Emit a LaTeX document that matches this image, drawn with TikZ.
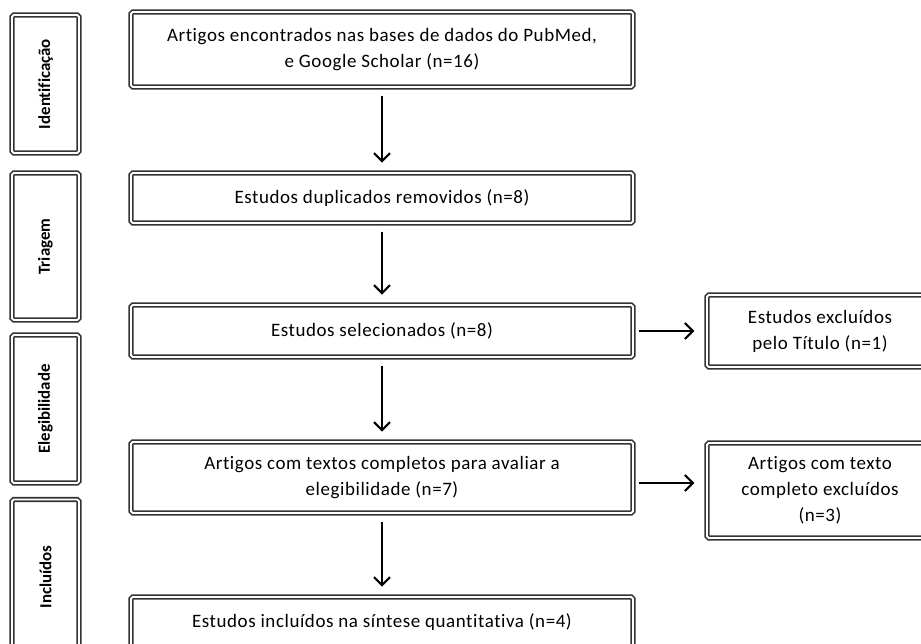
\documentclass[tikz,border=0pt]{standalone}
\usepackage{fontspec}
\setmainfont{Carlito}[Ligatures={NoCommon}]
\usepackage{tikz}
\usetikzlibrary{arrows.meta, positioning}

\begin{document}
\begin{tikzpicture}[
    >={Straight Barb[length=4.5pt,width=9pt]},
    on grid,
    box/.style={rectangle, draw=black!80, double=white, double distance=1.1pt, line width=0.9pt, rounded corners=1pt, minimum width=10.04cm, align=center, font=\fontsize{10.8}{14.8}\selectfont\addfontfeature{LetterSpace=3}},
    side/.style={rectangle, draw=black!80, double=white, double distance=1.1pt, line width=0.9pt, rounded corners=1pt, minimum width=1.34cm, align=center, font=\fontsize{9.6}{10}\selectfont\bfseries},
    outbox/.style={box, minimum width=4.52cm},
    myarrow/.style={->, line width=1.2pt, shorten <=4.5pt, shorten >=5.5pt},
    sidearrow/.style={->, line width=1.2pt, shorten <=2.8pt, shorten >=6.8pt}
    ]
    \path[use as bounding box, clip] (0,0) rectangle (18.42,-12.88);
    % Stages
    \node[side, minimum height=2.76cm] (S1) at (0.91,-1.68) {\rotatebox{90}{Identificação}};
    \node[side, minimum height=2.94cm] (S2) at (0.91,-4.93) {\rotatebox{90}{Triagem}};
    \node[side, minimum height=2.96cm] (S3) at (0.91,-8.18) {\rotatebox{90}{Elegibilidade}};
    \node[side, minimum height=3.10cm] (S4) at (0.91,-11.54) {\rotatebox{90}{Incluídos}};
    % Nodes
    \node[box, minimum height=1.50cm] (B1) at (7.64,-0.99) {Artigos encontrados nas bases de dados do PubMed,\\e Google Scholar (n=16)};
    \node[box, minimum height=1.00cm] (B2) [below=2.97cm of B1] {Estudos duplicados removidos (n=8)};
    \node[box, minimum height=1.04cm] (B3) [below=2.66cm of B2] {Estudos selecionados (n=8)};
    \node[box, minimum height=1.42cm] (B4) [below=2.93cm of B3] {Artigos com textos completos para avaliar a\\elegibilidade (n=7)};
    \node[box, minimum height=1.00cm] (B5) [below=2.89cm of B4] {Estudos incluídos na síntese quantitativa (n=4)};
    \node[outbox, minimum height=1.44cm] (R1) [right=8.76cm of B3] {Estudos excluídos\\pelo Título (n=1)};
    \node[outbox, minimum height=1.90cm] (R2) [right=8.76cm of B4, yshift=-0.26cm] {Artigos com texto\\completo excluídos\\(n=3)};
    % Edges
    \path (B1) edge [myarrow] (B2);
    \path (B2) edge [myarrow] (B3);
    \path (B3) edge [myarrow] (B4);
    \path (B4) edge [myarrow] (B5);
    \path (B3.east) edge [sidearrow] (B3.east -| R1.west);
    \path ([yshift=-0.11cm]B4.east) edge [sidearrow] ([yshift=-0.11cm]B4.east -| R2.west);
\end{tikzpicture}
\end{document}
